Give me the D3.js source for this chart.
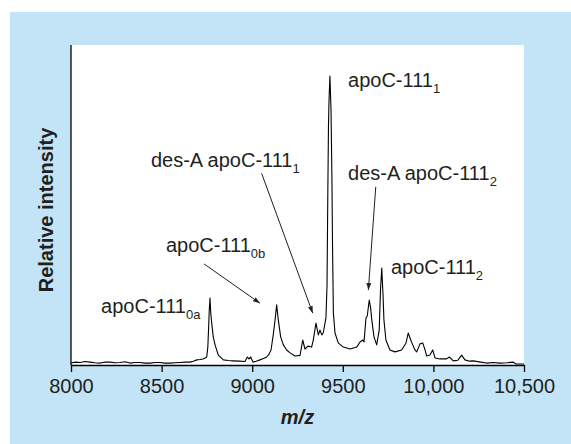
<!DOCTYPE html>
<html>
<head>
<meta charset="utf-8">
<script src="https://cdn.jsdelivr.net/npm/d3@7/dist/d3.min.js"></script>
<style>
  body { margin: 0; background: #fff; }
  text { font-family: "Liberation Sans", Arial, Helvetica, sans-serif; fill: #231f20; }
</style>
</head>
<body>
<svg id="chart" width="571" height="444"></svg>
<script>
// spectrum (m/z, relative intensity in % of plot height)
var mz = [8000, 8025, 8050, 8078, 8105, 8132, 8160, 8188, 8215, 8242, 8270, 8298, 8326, 8353, 8381, 8408,
  8436, 8463, 8491, 8518, 8546, 8574, 8602, 8630, 8657, 8675, 8694, 8712, 8728, 8740, 8749, 8755, 8759, 8763,
  8767, 8771, 8776, 8785, 8795, 8813, 8841, 8868, 8894, 8928, 8960, 8973, 8982, 8992, 9004, 9022, 9043, 9062,
  9080, 9093, 9104, 9116, 9126, 9135, 9144, 9157, 9172, 9190, 9209, 9236, 9264, 9279, 9291, 9308, 9328, 9337,
  9352, 9365, 9374, 9384, 9392, 9407, 9413, 9417, 9421, 9424, 9429, 9435, 9440, 9443, 9448, 9457, 9475, 9503,
  9540, 9577, 9595, 9610, 9617, 9628, 9635, 9646, 9653, 9660, 9672, 9687, 9701, 9708, 9715, 9722, 9727, 9738,
  9760, 9788, 9825, 9849, 9861, 9875, 9886, 9898, 9908, 9926, 9941, 9954, 9963, 9981, 9996, 10009, 10036,
  10073, 10088, 10110, 10135, 10156, 10174, 10200, 10220, 10260, 10294, 10330, 10368, 10405, 10441, 10456, 10500];
var intensity = [0.6, 0.9, 0.8, 1.1, 0.9, 0.7, 0.6, 0.9, 0.9, 0.7, 0.8, 1.0, 0.6, 0.8, 0.8, 0.6,
  0.6, 0.8, 0.8, 0.6, 0.6, 0.7, 0.8, 0.9, 0.9, 1.2, 1.6, 1.7, 1.9, 2.2, 2.5, 5.5, 10.9, 17.0,
  20.9, 16.5, 13.4, 8.8, 6.3, 3.1, 1.6, 1.4, 1.3, 1.2, 1.1, 2.5, 1.9, 2.5, 0.9, 1.2, 1.6, 2.0,
  2.5, 3.4, 4.7, 9.4, 14.0, 18.8, 14.1, 8.8, 6.3, 4.7, 3.8, 2.8, 3.0, 7.8, 5.0, 5.9, 5.6, 7.8,
  13.1, 9.4, 10.9, 9.4, 10.0, 14.7, 25.0, 51.6, 75.0, 82.8, 90.3, 79.7, 58.0, 39.0, 16.3, 10.0, 6.9, 5.6,
  5.0, 5.6, 7.2, 7.8, 7.2, 14.7, 15.3, 20.3, 18.0, 14.1, 8.8, 6.3, 10.9, 23.4, 30.3, 21.9, 14.1, 7.8,
  4.7, 4.1, 4.7, 6.9, 10.0, 7.8, 6.3, 4.7, 4.1, 6.6, 6.9, 4.7, 2.8, 3.1, 4.7, 2.2, 1.9,
  1.9, 2.5, 1.3, 1.5, 3.1, 1.6, 1.2, 1.3, 0.9, 0.6, 0.8, 0.6, 0.7, 0.9, 0.3, 0.3];

var xTicks = [8000, 8500, 9000, 9500, 10000, 10500];

// peak labels: text position and arrow (tail -> head) in data units
var labelNames = ["apoC-111", "des-A apoC-111", "apoC-111", "des-A apoC-111", "apoC-111", "apoC-111"];
var labelSubs = ["1", "2", "2", "1", "0b", "0a"];
var labelMz = [9529, 9529, 9766, 8441, 8524, 8166];
var labelInt = [86.9, 57.8, 28.4, 61.9, 35.3, 16.3];
var arrowFrom = [null, [9682, 55.7], null, [9052, 59.9], [8734, 31.6], null];
var arrowTo = [null, [9641, 23.4], null, [9334, 16.2], [9043, 19.3], null];

var margin = {top: 45, right: 47, bottom: 79, left: 71},
    width = 571 - margin.left - margin.right,
    height = 444 - margin.top - margin.bottom;

var svg = d3.select('#chart');

svg.append('rect').attr('x', 10).attr('y', 12).attr('width', 561).attr('height', 432).attr('fill', '#c2e4f6');

var defs = svg.append('defs');
defs.append('marker').attr('id', 'head')
    .attr('viewBox', '0 0 10 10').attr('refX', 10).attr('refY', 5)
    .attr('markerWidth', 7).attr('markerHeight', 7).attr('markerUnits', 'userSpaceOnUse')
    .attr('orient', 'auto')
  .append('path').attr('d', 'M0,1.5 L10,5 L0,8.5 Z').attr('fill', '#231f20');

var g = svg.append('g').attr('transform', 'translate(' + margin.left + ',' + margin.top + ')');

g.append('rect').attr('width', width).attr('height', height).attr('fill', '#fff');

var x = d3.scaleLinear().domain([8000, 10500]).range([0, width]);
var y = d3.scaleLinear().domain([0, 100]).range([height, 0]);

var points = mz.map(function(d, i) { return [d, intensity[i]]; });

var line = d3.line()
    .x(function(d) { return x(d[0]); })
    .y(function(d) { return y(d[1]); });

g.append('path').datum(points)
    .attr('fill', 'none').attr('stroke', '#000').attr('stroke-width', 1.1)
    .attr('stroke-linejoin', 'round')
    .attr('d', line);

var xAxis = g.append('g').attr('transform', 'translate(0,' + height + ')')
    .call(d3.axisBottom(x).tickValues(xTicks).tickSizeInner(7).tickSizeOuter(0).tickPadding(7)
      .tickFormat(function(d) { return d >= 10000 ? d3.format(',')(d) : d; }));
xAxis.select('.domain').attr('stroke', '#000').attr('stroke-width', 1.3);
xAxis.selectAll('.tick line').attr('stroke', '#000').attr('stroke-width', 1.3);
xAxis.selectAll('.tick text').attr('font-size', 20).attr('font-family', null).style('fill', '#231f20');

g.append('line').attr('x1', 0).attr('x2', 0).attr('y1', 0).attr('y2', height)
    .attr('stroke', '#000').attr('stroke-width', 1.3);

g.append('text').attr('x', width / 2).attr('y', height + 59)
    .attr('text-anchor', 'middle').attr('font-size', 20)
    .attr('font-weight', 'bold').attr('font-style', 'italic').text('m/z');

g.append('text').attr('transform', 'translate(-18,' + (height / 2 + 5) + ') rotate(-90)')
    .attr('text-anchor', 'middle').attr('font-size', 20)
    .attr('font-weight', 'bold').text('Relative intensity');

labelNames.forEach(function(name, i) {
  var t = g.append('text').attr('x', x(labelMz[i])).attr('y', y(labelInt[i])).attr('font-size', 20);
  t.append('tspan').text(name);
  t.append('tspan').attr('font-size', 13).attr('dy', 6).text(labelSubs[i]);
  if (arrowFrom[i]) {
    g.append('line')
        .attr('x1', x(arrowFrom[i][0])).attr('y1', y(arrowFrom[i][1]))
        .attr('x2', x(arrowTo[i][0])).attr('y2', y(arrowTo[i][1]))
        .attr('stroke', '#231f20').attr('stroke-width', 1)
        .attr('marker-end', 'url(#head)');
  }
});
</script>
</body>
</html>
